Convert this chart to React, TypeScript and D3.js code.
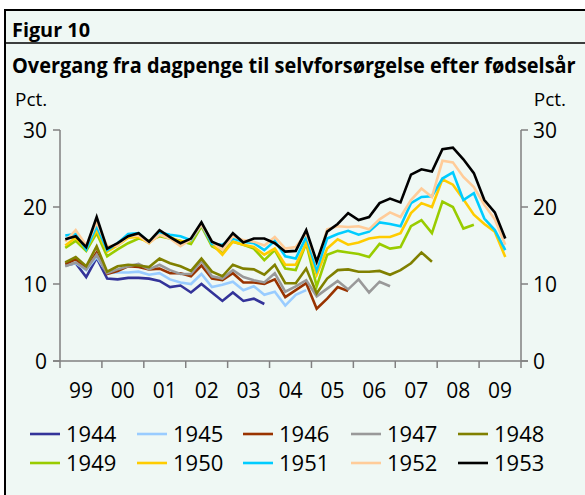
import React, { useLayoutEffect, useRef, useState } from 'react';
import * as d3 from 'd3';

// kvartaler fra 1999K1 til 2009K4, punkter midt i kvartalet
const yearLabels = ['99', '00', '01', '02', '03', '04', '05', '06', '07', '08', '09'];
const yTicks = [0, 10, 20, 30];

const s1944 = [12.4, 12.7, 10.9, 13.4, 10.7, 10.6, 10.8, 10.8, 10.7, 10.4, 9.6, 9.8, 8.9, 10.0, 8.9, 7.8, 8.9, 7.8, 8.1, 7.4];
const s1945 = [12.4, 12.7, 11.8, 13.5, 11.4, 11.5, 11.5, 11.6, 11.2, 11.4, 10.6, 10.2, 10.0, 11.3, 9.6, 9.9, 10.3, 9.2, 9.7, 8.6, 9.0, 7.2, 8.6, 9.2];
const s1946 = [12.6, 13.2, 12.0, 14.1, 11.3, 11.7, 12.3, 12.2, 11.9, 12.0, 11.4, 11.4, 11.0, 12.4, 10.7, 10.5, 11.4, 10.2, 10.2, 10.0, 10.6, 8.3, 9.2, 10.1, 6.8, 8.1, 9.6, 9.1];
const s1947 = [12.3, 12.8, 11.9, 13.8, 11.4, 11.9, 12.3, 12.6, 11.9, 12.5, 11.8, 11.3, 11.3, 13.0, 11.0, 10.7, 11.8, 10.9, 10.5, 10.2, 11.4, 9.0, 9.7, 10.5, 8.4, 9.4, 10.4, 9.3, 10.6, 8.9, 10.3, 9.7];
const s1948 = [12.8, 13.5, 12.3, 14.9, 11.6, 12.3, 12.5, 12.4, 12.2, 13.3, 12.7, 12.3, 11.7, 13.3, 11.6, 11.0, 12.5, 12.0, 11.9, 11.2, 12.5, 10.1, 10.1, 12.0, 8.8, 10.7, 11.8, 11.9, 11.6, 11.6, 11.7, 11.2, 11.8, 12.7, 14.1, 12.9];
const s1949 = [14.7, 15.6, 14.3, 16.6, 13.6, 14.5, 15.3, 15.9, 15.6, 16.2, 15.9, 15.6, 15.2, 17.5, 14.9, 14.2, 15.5, 15.1, 14.6, 13.1, 14.4, 12.0, 11.8, 15.3, 9.7, 13.8, 14.3, 14.1, 13.9, 13.5, 15.2, 14.6, 14.8, 17.5, 18.3, 16.6, 20.7, 20.0, 17.2, 17.7];
const s1950 = [15.0, 16.0, 14.6, 17.0, 14.2, 15.0, 16.0, 16.1, 15.3, 16.5, 16.1, 15.5, 15.6, 17.7, 15.2, 13.8, 15.5, 15.1, 14.8, 13.8, 14.6, 12.5, 12.5, 15.3, 11.2, 14.6, 15.8, 15.1, 15.4, 15.9, 16.1, 16.1, 16.6, 19.2, 20.5, 20.0, 23.6, 22.9, 21.0, 19.0, 17.8, 16.8, 13.5];
const s1951 = [16.3, 16.5, 14.5, 17.5, 14.4, 15.3, 16.5, 16.6, 15.4, 16.7, 16.4, 16.2, 15.7, 17.7, 15.2, 15.1, 15.9, 15.5, 15.3, 14.4, 15.6, 13.6, 13.3, 16.1, 11.8, 15.9, 16.5, 16.9, 16.4, 16.8, 18.0, 17.8, 17.5, 20.5, 21.3, 21.4, 23.7, 24.5, 20.9, 21.8, 18.5, 17.0, 14.4];
const s1952 = [15.5, 17.0, 15.0, 18.0, 14.9, 15.0, 16.2, 16.3, 15.3, 16.4, 15.9, 14.9, 15.8, 17.7, 15.5, 14.4, 16.2, 15.7, 15.5, 15.0, 16.1, 14.6, 14.8, 16.6, 12.7, 17.1, 17.5, 17.4, 17.5, 17.1, 18.4, 19.3, 18.7, 20.9, 22.4, 21.3, 26.0, 25.8, 23.9, 22.6, 20.3, 18.4, 15.1];
const s1953 = [15.8, 16.2, 14.8, 18.7, 14.6, 15.3, 16.2, 16.6, 15.5, 17.0, 16.1, 15.3, 15.9, 18.0, 15.5, 14.9, 16.6, 15.4, 15.9, 15.9, 15.3, 14.2, 14.3, 17.0, 12.9, 16.8, 17.8, 19.2, 18.3, 18.7, 20.5, 21.1, 20.6, 24.2, 24.9, 24.6, 27.5, 27.7, 26.2, 24.4, 20.9, 19.3, 15.9];

const cohorts = ['1944', '1945', '1946', '1947', '1948', '1949', '1950', '1951', '1952', '1953'];
const seriesValues = [s1944, s1945, s1946, s1947, s1948, s1949, s1950, s1951, s1952, s1953];
const colors = ['#333399', '#99ccff', '#993300', '#999999', '#808000', '#99cc00', '#ffcc00', '#00ccff', '#ffcc99', '#000000'];

const W = 585, H = 495;
const left = 60, right = 521, top = 130, bottom = 361;
const font = '"Open Sans", "DejaVu Sans", sans-serif';

// tekst der presses vandret til en given bredde (smal skrift i originalen)
const SqueezedText = ({ x, y, width, children, ...rest }: any) => {
    const ref = useRef<SVGTextElement>(null);
    const [sx, setSx] = useState(1);
    useLayoutEffect(() => {
        if (ref.current) {
            const w = ref.current.getComputedTextLength();
            if (w > 0) setSx(width / w);
        }
    }, [width, children]);
    return (
        <text ref={ref} x={0} y={0} transform={`translate(${x},${y}) scale(${sx},1)`} {...rest}>{children}</text>
    );
};

const App = () => {
    const nQ = yearLabels.length * 4;
    const x = d3.scaleLinear().domain([0, nQ]).range([left, right]);
    const y = d3.scaleLinear().domain([0, 30]).range([bottom, top]);
    const line = d3.line<number>()
        .x((d, i) => x(i + 0.5))
        .y(d => y(d));

    const axisCol = '#808080';
    const legendX = [30, 137, 243, 351, 458];
    const legendY = [434, 463];

    return (
        <svg width={W} height={H} style={{ position: 'absolute', left: 0, top: 0 }} fontFamily={font}>
            <rect x={0} y={0} width={W} height={H} fill="#fff" />
            <rect x={5} y={10} width={W + 20} height={H + 20} fill="#eff8f4" stroke="#000" strokeWidth={2} />
            <line x1={5} x2={W} y1={43} y2={43} stroke="#000" strokeWidth={1.5} />
            <SqueezedText x={12} y={37} width={78} fontSize={20} fontWeight="bold">Figur 10</SqueezedText>
            <SqueezedText x={12} y={73} width={564} fontSize={21} fontWeight="bold">
                Overgang fra dagpenge til selvforsørgelse efter fødselsår
            </SqueezedText>
            <text x={15} y={106} fontSize={19}>Pct.</text>
            <text x={566} y={106} fontSize={19} textAnchor="end">Pct.</text>

            {/* akser */}
            <line x1={left} x2={left} y1={top} y2={bottom} stroke={axisCol} strokeWidth={1.5} />
            <line x1={right} x2={right} y1={top} y2={bottom} stroke={axisCol} strokeWidth={1.5} />
            <line x1={left - 7} x2={right + 7} y1={bottom} y2={bottom} stroke={axisCol} strokeWidth={1.5} />
            {yTicks.map(t => (
                <g key={'y' + t}>
                    <line x1={left - 7} x2={left} y1={y(t)} y2={y(t)} stroke={axisCol} strokeWidth={1.5} />
                    <line x1={right} x2={right + 7} y1={y(t)} y2={y(t)} stroke={axisCol} strokeWidth={1.5} />
                    <text x={47} y={y(t)} dy="0.36em" fontSize={21} textAnchor="end">{t}</text>
                    <text x={533} y={y(t)} dy="0.36em" fontSize={21}>{t}</text>
                </g>
            ))}
            {d3.range(yearLabels.length + 1).map(k => (
                <line key={'xt' + k} x1={x(k * 4)} x2={x(k * 4)} y1={bottom} y2={bottom + 7} stroke={axisCol} strokeWidth={1.5} />
            ))}
            {yearLabels.map((lab, k) => (
                <text key={lab} x={x(k * 4 + 2)} y={398} fontSize={21} textAnchor="middle">{lab}</text>
            ))}

            {/* serier */}
            {seriesValues.map((vals, i) => (
                <path key={cohorts[i]} d={line(vals) || ''} fill="none" stroke={colors[i]} strokeWidth={2.6} strokeLinejoin="miter" />
            ))}

            {/* forklaring */}
            {cohorts.map((c, i) => {
                const lx = legendX[i % 5];
                const ly = legendY[Math.floor(i / 5)];
                return (
                    <g key={'lg' + c}>
                        <line x1={lx} x2={lx + 30} y1={ly} y2={ly} stroke={colors[i]} strokeWidth={2.6} />
                        <text x={lx + 36} y={ly} dy="0.36em" fontSize={22}>{c}</text>
                    </g>
                );
            })}
        </svg>
    );
};

export default App;
